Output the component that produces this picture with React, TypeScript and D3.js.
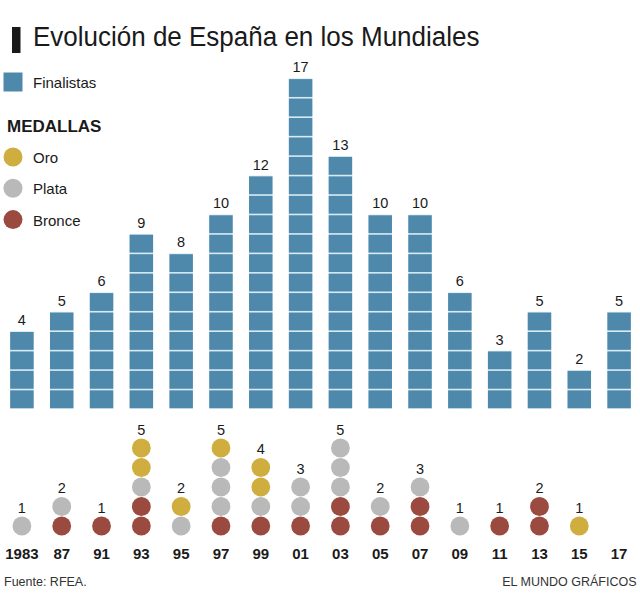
import React from "react";
import * as d3 from "d3";

const years = ["1983", "87", "91", "93", "95", "97", "99", "01", "03", "05", "07", "09", "11", "13", "15", "17"];
const finalistas = [4, 5, 6, 9, 8, 10, 12, 17, 13, 10, 10, 6, 3, 5, 2, 5];
// medals per championship, stacked bottom to top
const medallas: string[][] = [
  ["plata"],
  ["bronce", "plata"],
  ["bronce"],
  ["bronce", "bronce", "plata", "oro", "oro"],
  ["plata", "oro"],
  ["bronce", "plata", "plata", "plata", "oro"],
  ["bronce", "plata", "oro", "oro"],
  ["bronce", "plata", "plata"],
  ["bronce", "bronce", "plata", "plata", "plata"],
  ["bronce", "plata"],
  ["bronce", "bronce", "plata"],
  ["plata"],
  ["bronce"],
  ["bronce", "bronce"],
  ["oro"],
  [],
];
const legendMedals = [
  { key: "oro", label: "Oro" },
  { key: "plata", label: "Plata" },
  { key: "bronce", label: "Bronce" },
];

const colors: Record<string, string> = {
  oro: "#cfae3f",
  plata: "#b9b9b9",
  bronce: "#9b4a3f",
};
const BAR = "#4e89ab";
const GAP = "#d8ebf5";
const FONT = "'Liberation Sans', Arial, Helvetica, sans-serif";

export default function App() {
  const W = 640, H = 596;
  const x = d3.scaleBand<string>().domain(years).range([2, 639]).paddingInner(0.41).paddingOuter(0.205);
  const y = d3.scaleLinear().domain([0, 17]).range([409, 78.3]);
  const my = d3.scaleLinear().domain([0, 1]).range([526, 506.5]);
  const bw = x.bandwidth();
  const unit = y(0) - y(1);

  return (
    <svg width={W} height={H} style={{ position: "absolute", left: 0, top: 0, background: "#fff" }} fontFamily={FONT}>
      {/* title */}
      <rect x={12} y={27} width={8.5} height={26} fill="#1a1a1a" />
      <text x={33} y={46.5} fontSize={26} fill="#1a1a1a" transform="translate(0,46.5) scale(1,1.06) translate(0,-46.5)">Evolución de España en los Mundiales</text>

      {/* legend */}
      <rect x={3.5} y={72.5} width={19} height={19} fill={BAR} />
      <text x={33} y={88} fontSize={15} fill="#1a1a1a">Finalistas</text>
      <text x={7} y={132} fontSize={17} fontWeight={700} fill="#1a1a1a">MEDALLAS</text>
      {legendMedals.map((m, i) => (
        <g key={m.key}>
          <circle cx={13} cy={157 + i * 31.3} r={9.5} fill={colors[m.key]} />
          <text x={33} y={163 + i * 31.3} fontSize={15} fill="#1a1a1a">{m.label}</text>
        </g>
      ))}

      {/* bars */}
      {years.map((yr, i) => {
        const v = finalistas[i];
        const x0 = x(yr)!;
        return (
          <g key={"b" + yr}>
            <rect x={x0} y={y(v)} width={bw} height={y(0) - y(v)} fill={GAP} />
            {d3.range(v).map((k) => (
              <rect key={k} x={x0} y={y(k + 1) + 0.8} width={bw} height={unit - 1.6} fill={BAR} />
            ))}
            <text x={x0 + bw / 2} y={y(v) - 6} textAnchor="middle" fontSize={14.5} fill="#1a1a1a">{v}</text>
          </g>
        );
      })}

      {/* medals */}
      {years.map((yr, i) => {
        const list = medallas[i];
        const cx = x(yr)! + bw / 2;
        return (
          <g key={"m" + yr}>
            {list.map((m, k) => (
              <circle key={k} cx={cx} cy={my(k)} r={9.4} fill={colors[m]} />
            ))}
            {list.length > 0 && (
              <text x={cx} y={my(list.length - 1) - 13.5} textAnchor="middle" fontSize={14.5} fill="#1a1a1a">{list.length}</text>
            )}
            <text x={cx} y={559} textAnchor="middle" fontSize={15} fontWeight={700} fill="#1a1a1a">{yr}</text>
          </g>
        );
      })}

      {/* footer */}
      <text x={4} y={586} fontSize={12.5} fill="#333">Fuente: RFEA.</text>
      <text x={636.5} y={586} textAnchor="end" fontSize={12.5} fill="#333">EL MUNDO GRÁFICOS</text>
    </svg>
  );
}
